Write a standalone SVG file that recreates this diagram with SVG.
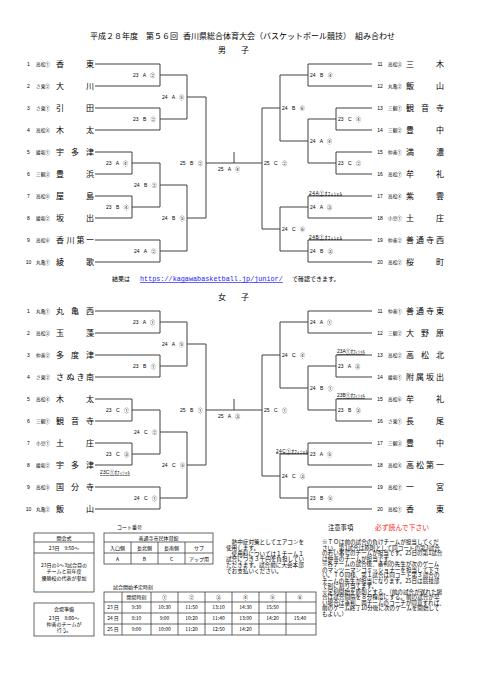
<svg xmlns="http://www.w3.org/2000/svg" width="481" height="680" viewBox="0 0 481 680">
<style>
text{font-family:"Noto Sans CJK JP","Liberation Sans",sans-serif;fill:#000}
.ln{fill:none;stroke:#404040;stroke-width:1}
.nm{font-size:8px}
.no{font-family:"Liberation Sans","Noto Sans CJK JP",sans-serif;font-size:5px;text-anchor:middle}
.cd{font-size:4.6px;text-anchor:middle}
.lb{font-family:"Liberation Sans","Noto Sans CJK JP",sans-serif;font-size:5px;word-spacing:3px}
.of{font-family:"Liberation Sans","Noto Sans CJK JP",sans-serif;font-size:4.8px;text-decoration:underline}
.tt{font-size:8px}
.sm{font-size:5px}
.smc{font-size:5px;text-anchor:middle}
.nt{font-size:5.6px}
.tb{fill:none;stroke:#404040;stroke-width:0.8}
</style>
<rect width="481" height="680" fill="#fff"/>

<g id="title">
<text class="tt" x="90" y="39">平成２８年度　第５６回<tspan x="183">香川県総合体育大会（バスケットボール競技）　組み合わせ</tspan></text>
<text class="tt" x="218" y="52.5">男<tspan x="241">子</tspan></text>
</g>

<g id="connectors">
<path class="ln" d="M95,64H160V86H95M160,75H187M95,108H160V130H95M160,119H187M187,75V119M187,97H206M95,152H132V174H95M132,163H160M95,196H132V218H95M132,207H160M160,163V207M160,185H187M95,240H160V262H95M160,251H187M187,185V251M187,218H206M206,97V218M206,163H262M234,152V163M262,108V229"/>
<path class="ln" d="M372,64H308V86H372M308,75H280M372,108H336V130H372M336,119H308M372,152H336V174H372M336,163H308M308,119V163M308,141H280M280,75V141M280,108H262M372,196H308V218H372M308,207H280M372,240H308V262H372M308,251H280M280,207V251M280,229H262"/>
<path class="ln" d="M95,311H160V333H95M160,322H187M95,355H160V377H95M160,366H187M187,322V366M187,344H206M95,399H132V421H95M132,410H160M95,443H132V465H95M132,454H160M160,410V454M160,432H187M95,487H160V509H95M160,498H187M187,432V498M187,465H206M206,344V465M206,410H262M234,399V410M262,355V476"/>
<path class="ln" d="M372,311H308V333H372M308,322H280M372,355H336V377H372M336,366H308M372,399H336V421H372M336,410H308M308,366V410M308,388H280M280,322V388M280,355H262M372,443H308V465H372M308,454H280M372,487H308V509H372M308,498H280M280,454V498M280,476H262"/>
</g>

<g id="match-labels">
<text class="lb" x="133" y="77">23 A ②</text>
<text class="lb" x="133" y="121">23 B ②</text>
<text class="lb" x="162" y="99">24 A ⑤</text>
<text class="lb" x="106" y="165">23 A ④</text>
<text class="lb" x="106" y="209">23 B ④</text>
<text class="lb" x="134" y="187">24 B ②</text>
<text class="lb" x="134" y="253">24 A ②</text>
<text class="lb" x="162" y="220">24 B ⑤</text>
<text class="lb" x="180" y="165">25 B ②</text>
<text class="lb" x="218" y="171">25 A ④</text>
<text class="lb" x="264" y="165">25 C ②</text>
<text class="lb" x="310" y="77">24 B ④</text>
<text class="lb" x="338" y="121">23 C ④</text>
<text class="lb" x="338" y="165">23 C ②</text>
<text class="lb" x="310" y="143">24 A ④</text>
<text class="lb" x="282" y="110">24 B ⑥</text>
<text class="lb" x="310" y="209">24 A ③</text>
<text class="lb" x="310" y="253">24 B ③</text>
<text class="lb" x="282" y="231">24 C ⑥</text>
<text class="of" x="309" y="194.5" textLength="33">24A①ｵﾌｨｼｬﾙ</text>
<text class="of" x="309" y="238.5" textLength="33">24B①ｵﾌｨｼｬﾙ</text>

<text class="lb" x="133" y="324">23 A ①</text>
<text class="lb" x="133" y="368">23 B ①</text>
<text class="lb" x="162" y="346">24 A ⑤</text>
<text class="lb" x="106" y="412">23 C ①</text>
<text class="lb" x="106" y="456">23 C ③</text>
<text class="of" x="100" y="474" textLength="30">23C①ｵﾌｨｼｬﾙ</text>
<text class="lb" x="134" y="434">24 C ②</text>
<text class="lb" x="134" y="500">24 C ①</text>
<text class="lb" x="162" y="467">24 C ⑤</text>
<text class="lb" x="180" y="412">25 B ①</text>
<text class="lb" x="218" y="418">25 A ③</text>
<text class="lb" x="264" y="412">25 C ①</text>
<text class="lb" x="310" y="324">24 A ①</text>
<text class="lb" x="338" y="368">23 A ③</text>
<text class="of" x="337" y="353" textLength="28">23A①ｵﾌｨｼｬﾙ</text>
<text class="lb" x="338" y="412">23 B ③</text>
<text class="of" x="337" y="397" textLength="28">23B①ｵﾌｨｼｬﾙ</text>
<text class="lb" x="310" y="390">24 B ①</text>
<text class="lb" x="282" y="357">24 C ④</text>
<text class="lb" x="310" y="456">23 A ⑤</text>
<text class="of" x="276" y="452.5" textLength="32">24C①ｵﾌｨｼｬﾙ</text>
<text class="lb" x="310" y="500">23 B ⑤</text>
<text class="lb" x="282" y="478">24 C ③</text>
</g>

<g id="men-1"><text class="no" x="28.5" y="65.8">1</text><text class="cd" x="43" y="65.7">高松①</text><text class="nm" x="56 86" y="67">香東</text></g>
<g id="men-2"><text class="no" x="28.5" y="87.8">2</text><text class="cd" x="43" y="87.7">さ東②</text><text class="nm" x="56 86" y="89">大川</text></g>
<g id="men-3"><text class="no" x="28.5" y="109.8">3</text><text class="cd" x="43" y="109.7">さ東①</text><text class="nm" x="56 86" y="111">引田</text></g>
<g id="men-4"><text class="no" x="28.5" y="131.8">4</text><text class="cd" x="43" y="131.7">高松⑧</text><text class="nm" x="56 86" y="133">木太</text></g>
<g id="men-5"><text class="no" x="28.5" y="153.8">5</text><text class="cd" x="43" y="153.7">綾坂①</text><text class="nm" x="56 71 86" y="155">宇多津</text></g>
<g id="men-6"><text class="no" x="28.5" y="175.8">6</text><text class="cd" x="43" y="175.7">三観③</text><text class="nm" x="56 86" y="177">豊浜</text></g>
<g id="men-7"><text class="no" x="28.5" y="197.8">7</text><text class="cd" x="43" y="197.7">高松⑤</text><text class="nm" x="56 86" y="199">屋島</text></g>
<g id="men-8"><text class="no" x="28.5" y="219.8">8</text><text class="cd" x="43" y="219.7">綾坂②</text><text class="nm" x="56 86" y="221">坂出</text></g>
<g id="men-9"><text class="no" x="28.5" y="241.8">9</text><text class="cd" x="43" y="241.7">高松⑥</text><text class="nm" x="56 66.5 76.5 86" y="243">香川第一</text></g>
<g id="men-10"><text class="no" x="28.5" y="263.8">10</text><text class="cd" x="43" y="263.7">丸亀①</text><text class="nm" x="56 86" y="265">綾歌</text></g>

<g id="men-11"><text class="no" x="380" y="65.8">11</text><text class="cd" x="395" y="65.7">高松③</text><text class="nm" x="406 436" y="67">三木</text></g>
<g id="men-12"><text class="no" x="380" y="87.8">12</text><text class="cd" x="395" y="87.7">丸亀②</text><text class="nm" x="406 436" y="89">飯山</text></g>
<g id="men-13"><text class="no" x="380" y="109.8">13</text><text class="cd" x="395" y="109.7">三観①</text><text class="nm" x="406 421 436" y="111">観音寺</text></g>
<g id="men-14"><text class="no" x="380" y="131.8">14</text><text class="cd" x="395" y="131.7">三観②</text><text class="nm" x="406 436" y="133">豊中</text></g>
<g id="men-15"><text class="no" x="380" y="153.8">15</text><text class="cd" x="395" y="153.7">仲善①</text><text class="nm" x="406 436" y="155">満濃</text></g>
<g id="men-16"><text class="no" x="380" y="175.8">16</text><text class="cd" x="395" y="175.7">高松⑦</text><text class="nm" x="406 436" y="177">牟礼</text></g>
<g id="men-17"><text class="no" x="380" y="197.8">17</text><text class="cd" x="395" y="197.7">高松④</text><text class="nm" x="406 436" y="199">紫雲</text></g>
<g id="men-18"><text class="no" x="380" y="219.8">18</text><text class="cd" x="395" y="219.7">小豆①</text><text class="nm" x="406 436" y="221">土庄</text></g>
<g id="men-19"><text class="no" x="380" y="241.8">19</text><text class="cd" x="395" y="241.7">仲善②</text><text class="nm" x="406 416 426 436" y="243">善通寺西</text></g>
<g id="men-20"><text class="no" x="380" y="263.8">20</text><text class="cd" x="395" y="263.7">高松②</text><text class="nm" x="406 436" y="265">桜町</text></g>

<g id="result-note">
<text x="112" y="281" style="font-size:6px">結果は</text>
<text x="140" y="281" style="font-family:'Liberation Mono',monospace;font-size:6.8px;fill:#1a1aff;text-decoration:underline">https://kagawabasketball.jp/junior/</text>
<text x="292" y="281" style="font-size:6px">で確認できます。</text>
</g>

<g id="women-heading"><text class="tt" x="218" y="300">女<tspan x="241">子</tspan></text></g>

<g id="women-1"><text class="no" x="28.5" y="312.8">1</text><text class="cd" x="43" y="312.7">丸亀①</text><text class="nm" x="56 71 86" y="314">丸亀西</text></g>
<g id="women-2"><text class="no" x="28.5" y="334.8">2</text><text class="cd" x="43" y="334.7">高松③</text><text class="nm" x="56 86" y="336">玉藻</text></g>
<g id="women-3"><text class="no" x="28.5" y="356.8">3</text><text class="cd" x="43" y="356.7">仲善②</text><text class="nm" x="56 71 86" y="358">多度津</text></g>
<g id="women-4"><text class="no" x="28.5" y="378.8">4</text><text class="cd" x="43" y="378.7">さ東②</text><text class="nm" x="56 66.5 76.5 86" y="380">さぬき南</text></g>
<g id="women-5"><text class="no" x="28.5" y="400.8">5</text><text class="cd" x="43" y="400.7">高松④</text><text class="nm" x="56 86" y="402">木太</text></g>
<g id="women-6"><text class="no" x="28.5" y="422.8">6</text><text class="cd" x="43" y="422.7">三観①</text><text class="nm" x="56 71 86" y="424">観音寺</text></g>
<g id="women-7"><text class="no" x="28.5" y="444.8">7</text><text class="cd" x="43" y="444.7">小豆①</text><text class="nm" x="56 86" y="446">土庄</text></g>
<g id="women-8"><text class="no" x="28.5" y="466.8">8</text><text class="cd" x="43" y="466.7">綾坂②</text><text class="nm" x="56 71 86" y="468">宇多津</text></g>
<g id="women-9"><text class="no" x="28.5" y="488.8">9</text><text class="cd" x="43" y="488.7">高松⑤</text><text class="nm" x="56 71 86" y="490">国分寺</text></g>
<g id="women-10"><text class="no" x="28.5" y="510.8">10</text><text class="cd" x="43" y="510.7">丸亀②</text><text class="nm" x="56 86" y="512">飯山</text></g>

<g id="women-11"><text class="no" x="380" y="312.8">11</text><text class="cd" x="395" y="312.7">仲善①</text><text class="nm" x="406 416 426 436" y="314">善通寺東</text></g>
<g id="women-12"><text class="no" x="380" y="334.8">12</text><text class="cd" x="395" y="334.7">三観②</text><text class="nm" x="406 421 436" y="336">大野原</text></g>
<g id="women-13"><text class="no" x="380" y="356.8">13</text><text class="cd" x="395" y="356.7">高松②</text><text class="nm" x="406 421 436" y="358">高松北</text></g>
<g id="women-14"><text class="no" x="380" y="378.8">14</text><text class="cd" x="395" y="378.7">綾坂①</text><text class="nm" x="406 416 426 436" y="380">附属坂出</text></g>
<g id="women-15"><text class="no" x="380" y="400.8">15</text><text class="cd" x="395" y="400.7">高松⑥</text><text class="nm" x="406 436" y="402">牟礼</text></g>
<g id="women-16"><text class="no" x="380" y="422.8">16</text><text class="cd" x="395" y="422.7">さ東①</text><text class="nm" x="406 436" y="424">長尾</text></g>
<g id="women-17"><text class="no" x="380" y="444.8">17</text><text class="cd" x="395" y="444.7">三観③</text><text class="nm" x="406 436" y="446">豊中</text></g>
<g id="women-18"><text class="no" x="380" y="466.8">18</text><text class="cd" x="395" y="466.7">高松⑧</text><text class="nm" x="406 416 426 436" y="468">高松第一</text></g>
<g id="women-19"><text class="no" x="380" y="488.8">19</text><text class="cd" x="395" y="488.7">高松⑦</text><text class="nm" x="406 436" y="490">一宮</text></g>
<g id="women-20"><text class="no" x="380" y="510.8">20</text><text class="cd" x="395" y="510.7">高松①</text><text class="nm" x="406 436" y="512">香東</text></g>

<g id="opening-box">
<rect class="tb" x="34" y="533" width="60" height="59"/>
<path class="tb" d="M34,542H94M34,553H94"/>
<text class="smc" x="64" y="539.5">開会式</text>
<text class="smc" x="64" y="549.5">23日　9:50～</text>
<text class="smc" x="64" y="567">23日の1～3試合目の</text>
<text class="smc" x="64" y="573">チームと前年度</text>
<text class="smc" x="64" y="579.5">優勝校の代表が参加</text>
</g>

<g id="venue-box">
<rect class="tb" x="34" y="603" width="60" height="33"/>
<text class="smc" x="64" y="611">会場準備</text>
<text class="smc" x="64" y="620">23日　8:00～</text>
<text class="smc" x="64" y="626">仲善のチームが</text>
<text class="smc" x="64" y="632">行う。</text>
</g>

<g id="court-table">
<text class="sm" x="117" y="529">コート番号</text>
<rect class="tb" x="104" y="533" width="109" height="31"/>
<path class="tb" d="M104,542H213M104,553H213M131,542V564M158,542V564M185,542V564"/>
<text class="smc" x="158.5" y="539.5">善通寺市民体育館</text>
<text class="smc" x="117.5" y="549.5">入口側</text>
<text class="smc" x="144.5" y="549.5">長北側</text>
<text class="smc" x="171.5" y="549.5">長南側</text>
<text class="smc" x="199" y="549.5">サブ</text>
<text class="smc" x="117.5" y="560.5">A</text>
<text class="smc" x="144.5" y="560.5">B</text>
<text class="smc" x="171.5" y="560.5">C</text>
<text class="smc" x="199" y="560.5">アップ用</text>
</g>

<g id="aircon-note">
<text class="nt" x="226" y="544">　熱中症対策としてエアコンを</text>
<text class="nt" x="226" y="549.8">使用します。</text>
<text class="nt" x="226" y="555.6">　使用料については１チーム１</text>
<text class="nt" x="226" y="561.4">試合につき３千円を負担してい</text>
<text class="nt" x="226" y="567.2">ただきます。試合前に大会本部</text>
<text class="nt" x="226" y="573">でお支払いください。</text>
</g>

<g id="schedule-table">
<text class="sm" x="113" y="589">試合開始予定時刻</text>
<rect class="tb" x="104" y="592" width="212" height="43"/>
<path class="tb" d="M104,602H316M104,613H316M104,624H316M122,592V635M151,592V635M178,592V635M205,592V635M232,592V635M259,592V635M286,592V635"/>
<text class="smc" x="136.5" y="598.8">開場時刻</text>
<text class="smc" x="164.5" y="598.8">①</text>
<text class="smc" x="191.5" y="598.8">②</text>
<text class="smc" x="218.5" y="598.8">③</text>
<text class="smc" x="245.5" y="598.8">④</text>
<text class="smc" x="272.5" y="598.8">⑤</text>
<text class="smc" x="300" y="598.8">⑥</text>
<text class="smc" x="113" y="609.3">23 日</text>
<text class="smc" x="136.5" y="609.3">9:30</text>
<text class="smc" x="164.5" y="609.3">10:30</text>
<text class="smc" x="191.5" y="609.3">11:50</text>
<text class="smc" x="218.5" y="609.3">13:10</text>
<text class="smc" x="245.5" y="609.3">14:30</text>
<text class="smc" x="272.5" y="609.3">15:50</text>
<text class="smc" x="113" y="620.3">24 日</text>
<text class="smc" x="136.5" y="620.3">8:10</text>
<text class="smc" x="164.5" y="620.3">9:00</text>
<text class="smc" x="191.5" y="620.3">10:20</text>
<text class="smc" x="218.5" y="620.3">11:40</text>
<text class="smc" x="245.5" y="620.3">13:00</text>
<text class="smc" x="272.5" y="620.3">14:20</text>
<text class="smc" x="300" y="620.3">15:40</text>
<text class="smc" x="113" y="631.3">25 日</text>
<text class="smc" x="136.5" y="631.3">9:00</text>
<text class="smc" x="164.5" y="631.3">10:00</text>
<text class="smc" x="191.5" y="631.3">11:20</text>
<text class="smc" x="218.5" y="631.3">12:50</text>
<text class="smc" x="245.5" y="631.3">14:20</text>
</g>

<g id="notes">
<text x="328" y="529.5" style="font-size:6.3px">注意事項</text>
<text x="375" y="529.5" style="font-size:6.8px;fill:#ff2020">必ず読んで下さい</text>
<text class="nt" x="322" y="544">※ＴＯは前の試合の負けチームが担当してくだ</text>
<text class="nt" x="322" y="549.5">さい。第1試合は原則として同コートの第3試合</text>
<text class="nt" x="322" y="555">の若い番号のチームが担当です。25日の第1試合</text>
<text class="nt" x="322" y="560.5">は仲善のチームが担当です。</text>
<text class="nt" x="322" y="566">※各チームの試合後、審判の先生が次のゲーム</text>
<text class="nt" x="322" y="571.5">のマンツーマンコミッショナーを担当して下さ</text>
<text class="nt" x="322" y="577">い。ＴＯ同様、第１試合は同コート第３試合の</text>
<text class="nt" x="322" y="582.5">チームの先生が担当になります。25日は競技部</text>
<text class="nt" x="322" y="588">で別に割り当てます。</text>
<text class="nt" x="322" y="593.5">※定刻開始を原則とする。（前の試合が遅れた場</text>
<text class="nt" x="322" y="599">合は試合間隔を８分程度にする。前の試合が早</text>
<text class="nt" x="322" y="604.5">い場合は審判、両チームのコーチが同意すれば、</text>
<text class="nt" x="322" y="610">前のゲーム終了10分後に次のゲームを開始して</text>
<text class="nt" x="322" y="615.5">もよい。）</text>
</g>
</svg>
